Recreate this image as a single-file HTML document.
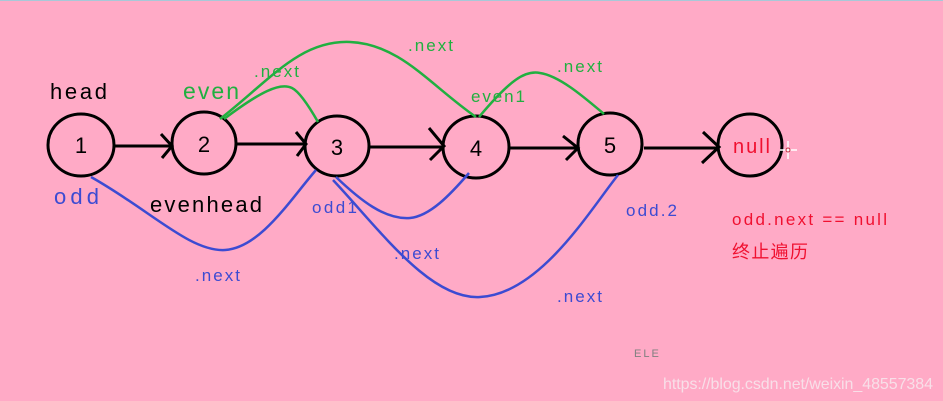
<!DOCTYPE html>
<html><head><meta charset="utf-8"><style>
html,body{margin:0;padding:0;background:#ffaac6;}
svg{display:block}
text{font-family:"Liberation Sans","Noto Sans CJK SC",sans-serif;}
</style></head><body>
<svg width="943" height="401" viewBox="0 0 943 401" xmlns="http://www.w3.org/2000/svg">
<rect width="943" height="401" fill="#ffaac6"/>
<rect width="943" height="1" fill="#a8c8d8"/>
<g fill="none" stroke="#000" stroke-width="3">
<ellipse cx="81" cy="145" rx="33" ry="31"/>
<ellipse cx="204" cy="143" rx="32" ry="31"/>
<ellipse cx="337" cy="146" rx="32" ry="30"/>
<ellipse cx="476" cy="147" rx="33" ry="31"/>
<ellipse cx="610" cy="144" rx="32" ry="31"/>
<ellipse cx="750" cy="145" rx="32" ry="31"/>
<path d="M115 146H171M161 134L172 146L162 158"/>
<path d="M237 144H304M296 132L306 144L297 156"/>
<path d="M369 147H442M429 128L444 146L430 160"/>
<path d="M510 148H578M563 136L578 148L566 160"/>
<path d="M644 148H718M703 132L719 147L702 163"/>
</g>
<g fill="none" stroke="#20b040" stroke-width="2.5">
<path d="M220 119C270 80 300 40 350 42C400 44 430 85 476 117"/>
<path d="M224 119C260 92 280 82 292 88C300 92 310 108 318 122"/>
<path d="M479 117C510 80 525 70 540 73C560 76 585 98 604 114"/>
</g>
<g fill="none" stroke="#3c4bd2" stroke-width="2.5">
<path d="M91 177C150 210 190 252 225 250C260 248 290 200 316 170"/>
<path d="M336 177C360 200 385 220 410 218C430 216 450 195 469 173"/>
<path d="M333 180C380 230 430 300 480 297C540 294 590 210 618 175"/>
</g>
<g font-size="22" text-anchor="middle" fill="#000">
<text x="81" y="153">1</text><text x="204" y="152">2</text><text x="337" y="155">3</text>
<text x="476" y="156">4</text><text x="610" y="153">5</text>
</g>
<text x="733" y="153" font-size="20" fill="#f01030" textLength="37">null</text>
<path d="M780 150H797M788 141V159" stroke="#fff" stroke-width="1.5"/>
<circle cx="788" cy="150" r="2" fill="none" stroke="#c03040"/>
<text x="50" y="99" font-size="22" fill="#000" textLength="57">head</text>
<text x="183" y="99" font-size="23" fill="#20b040" textLength="56">even</text>
<text x="54" y="204" font-size="22" fill="#3c4bd2" textLength="45">odd</text>
<text x="150" y="212" font-size="22" fill="#000" textLength="112">evenhead</text>
<text x="312" y="213" font-size="17" fill="#3c4bd2" textLength="45">odd1</text>
<text x="626" y="216" font-size="17" fill="#3c4bd2" textLength="51">odd.2</text>
<text x="471" y="102" font-size="17" fill="#20b040" textLength="54">even1</text>
<g font-size="17" fill="#20b040">
<text x="254" y="77" textLength="45">.next</text><text x="408" y="51" textLength="45">.next</text><text x="557" y="72" textLength="45">.next</text>
</g>
<g font-size="17" fill="#3c4bd2">
<text x="195" y="281" textLength="45">.next</text><text x="394" y="259" textLength="45">.next</text><text x="557" y="302" textLength="45">.next</text>
</g>
<text x="732" y="225" font-size="17" fill="#f01030" textLength="155">odd.next == null</text>
<text x="732" y="258" font-size="18" fill="#f01030" textLength="76">终止遍历</text>
<text x="634" y="357" font-size="11" fill="#808080" letter-spacing="2">ELE</text>
<text x="663" y="389" font-size="16" fill="#f8dfe8" textLength="270">https://blog.csdn.net/weixin_48557384</text>
</svg>
</body></html>
